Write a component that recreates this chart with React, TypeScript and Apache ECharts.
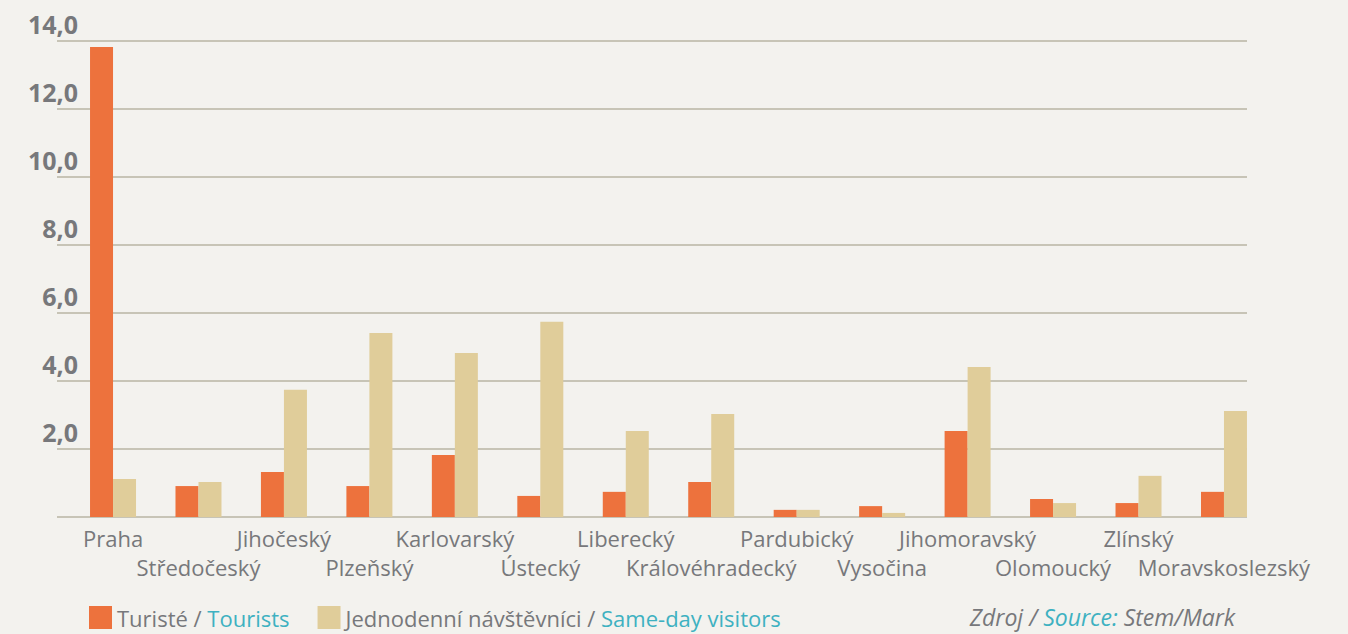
import React, { useEffect, useRef } from "react";
import * as echarts from "echarts";

const regions = [
  "Praha", "Středočeský", "Jihočeský", "Plzeňský", "Karlovarský", "Ústecký", "Liberecký",
  "Královéhradecký", "Pardubický", "Vysočina", "Jihomoravský", "Olomoucký", "Zlínský", "Moravskoslezský",
];
const tourists = [13.82, 0.91, 1.32, 0.91, 1.82, 0.62, 0.74, 1.03, 0.21, 0.32, 2.53, 0.53, 0.41, 0.74];
const sameDay = [1.12, 1.03, 3.74, 5.41, 4.82, 5.74, 2.53, 3.03, 0.21, 0.12, 4.41, 0.41, 1.21, 3.12];
const yTicks = [0, 2, 4, 6, 8, 10, 12, 14];

const ORANGE = "#ED723D";
const BEIGE = "#E0CD9A";
const GRID = "#C7C4B6";
const GRAY = "#77787B";
const TEAL = "#3EB1C1";
const FONT = "'Open Sans', sans-serif";

export default function App() {
  const ref = useRef<HTMLDivElement>(null);
  useEffect(() => {
    if (!ref.current) return;
    const chart = echarts.init(ref.current, null, { renderer: "svg" });
    chart.setOption({
      animation: false,
      backgroundColor: "#F3F2EE",
      textStyle: { fontFamily: FONT },
      grid: [
        { left: 57, right: 101, top: 41, bottom: 117 },
        { left: 70.3, right: 81.3, top: 41, bottom: 117 },
      ],
      xAxis: [
        { type: "category", gridIndex: 0, data: regions, show: false },
        {
          type: "category",
          gridIndex: 1,
          data: regions,
          axisLine: { show: false },
          axisTick: { show: false },
          axisLabel: {
            interval: 0,
            margin: 6,
            color: GRAY,
            fontSize: 22,
            fontFamily: FONT,
            lineHeight: 29,
            verticalAlign: "top",
            formatter: (v: string, i: number) => (i % 2 === 1 ? "\n" + v : v),
          },
        },
      ],
      yAxis: [
        {
          type: "value",
          gridIndex: 0,
          min: yTicks[0],
          max: yTicks[yTicks.length - 1],
          interval: 2,
          axisLine: { show: false },
          axisTick: { show: false },
          splitLine: { lineStyle: { color: GRID, width: 2 } },
          axisLabel: {
            margin: -21,
            align: "right",
            verticalAlign: "bottom",
            padding: [0, 0, 5, 0],
            color: GRAY,
            fontSize: 25,
            fontWeight: "bold",
            fontFamily: FONT,
            formatter: (v: number) => (v === 0 ? "" : v.toFixed(1).replace(".", ",")),
          },
        },
        {
          type: "value",
          gridIndex: 1,
          min: yTicks[0],
          max: yTicks[yTicks.length - 1],
          interval: 2,
          show: false,
          splitLine: { show: false },
        },
      ],
      legend: {
        left: 89,
        top: 606,
        padding: 0,
        itemWidth: 23,
        itemHeight: 23,
        itemGap: 28,
        icon: "rect",
        textStyle: {
          color: GRAY,
          fontSize: 22,
          fontFamily: FONT,
          rich: {
            g: { color: GRAY, fontSize: 22, fontFamily: FONT },
            t: { color: TEAL, fontSize: 22, fontFamily: FONT },
          },
        },
        formatter: (name: string) => {
          const parts = name.split(" / ");
          return `{g|${parts[0]} / }{t|${parts[1]}}`;
        },
        data: ["Turisté / Tourists", "Jednodenní návštěvníci / Same-day visitors"],
      },
      series: [
        {
          name: "Turisté / Tourists",
          type: "bar",
          xAxisIndex: 1,
          yAxisIndex: 1,
          data: tourists,
          barWidth: 23,
          barGap: "0%",
          itemStyle: { color: ORANGE },
        },
        {
          name: "Jednodenní návštěvníci / Same-day visitors",
          type: "bar",
          xAxisIndex: 1,
          yAxisIndex: 1,
          data: sameDay,
          barWidth: 23,
          barGap: "0%",
          itemStyle: { color: BEIGE },
        },
      ],
      graphic: [
        {
          type: "text",
          right: 113,
          top: 605,
          style: {
            text: "{g|Zdroj / }{t|Source:}{g| Stem/Mark}",
            rich: {
              g: { fill: GRAY, fontSize: 23, fontStyle: "italic", fontFamily: FONT },
              t: { fill: TEAL, fontSize: 23, fontStyle: "italic", fontFamily: FONT },
            },
          },
        },
      ],
    });
    return () => chart.dispose();
  }, []);
  return (
    <div
      ref={ref}
      style={{ position: "fixed", left: 0, top: 0, width: 1348, height: 634 }}
    />
  );
}
